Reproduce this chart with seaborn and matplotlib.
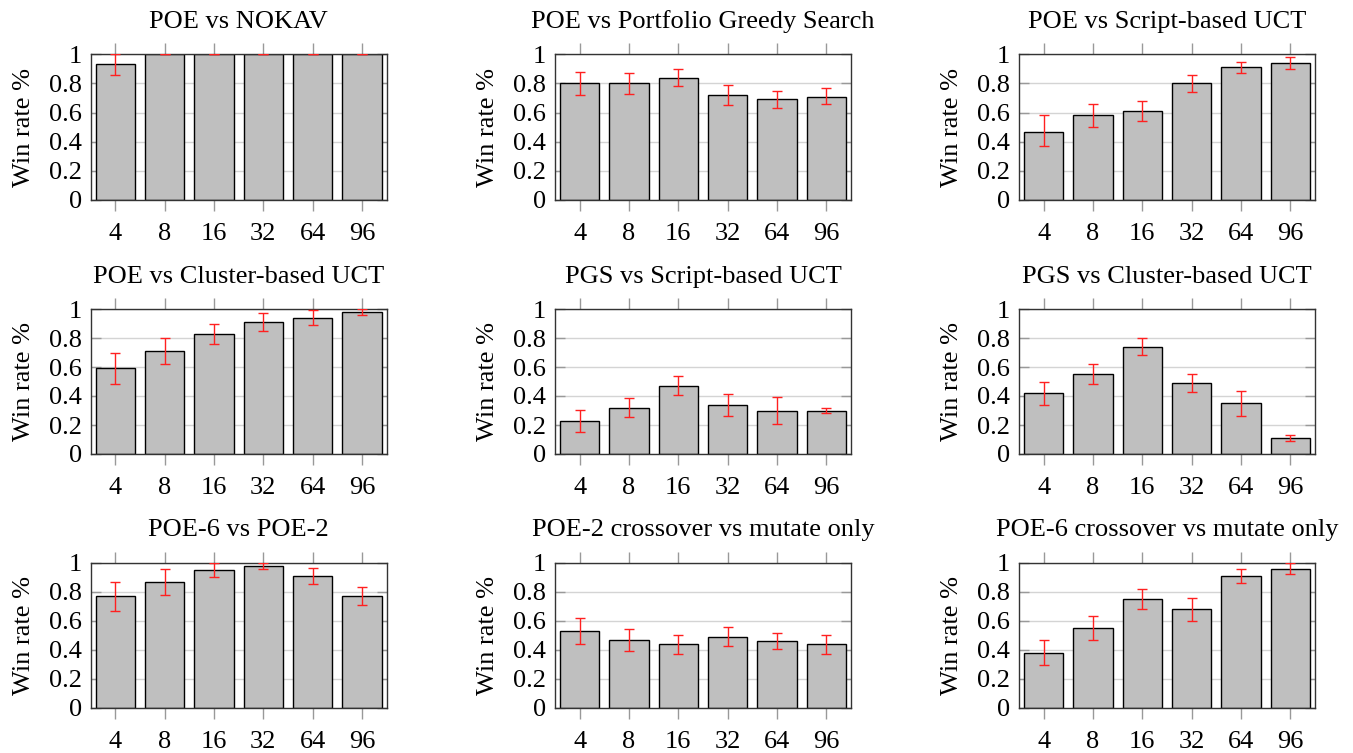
import matplotlib
matplotlib.use("Agg")
import matplotlib.pyplot as plt
import seaborn as sns
import numpy as np
import pandas as pd

sns.set_theme(style="white")
plt.rcParams['font.family'] = ['Liberation Serif', 'DejaVu Serif']
plt.rcParams['text.color'] = 'black'
plt.rcParams['axes.labelcolor'] = 'black'
plt.rcParams['xtick.labelcolor'] = 'black'
plt.rcParams['ytick.labelcolor'] = 'black'

categories = ["4", "8", "16", "32", "64", "96"]

titles = [
    "POE vs NOKAV",
    "POE vs Portfolio Greedy Search",
    "POE vs Script-based UCT",
    "POE vs Cluster-based UCT",
    "PGS vs Script-based UCT",
    "PGS vs Cluster-based UCT",
    "POE-6 vs POE-2",
    "POE-2 crossover vs mutate only",
    "POE-6 crossover vs mutate only",
]

win_nokav = [0.93, 1.00, 1.00, 1.00, 1.00, 1.00]
lo_nokav = [0.86, 1.00, 1.00, 1.00, 1.00, 1.00]
hi_nokav = [1.00, 1.00, 1.00, 1.00, 1.00, 1.00]

win_pgs = [0.80, 0.80, 0.84, 0.72, 0.69, 0.71]
lo_pgs = [0.72, 0.73, 0.78, 0.65, 0.63, 0.66]
hi_pgs = [0.88, 0.87, 0.90, 0.79, 0.75, 0.77]

win_suct = [0.47, 0.58, 0.61, 0.80, 0.91, 0.94]
lo_suct = [0.37, 0.50, 0.54, 0.74, 0.87, 0.90]
hi_suct = [0.58, 0.66, 0.68, 0.86, 0.95, 0.98]

win_cuct = [0.59, 0.71, 0.83, 0.91, 0.94, 0.98]
lo_cuct = [0.48, 0.62, 0.76, 0.85, 0.89, 0.96]
hi_cuct = [0.70, 0.80, 0.90, 0.97, 0.99, 1.00]

win_pgs_suct = [0.23, 0.32, 0.47, 0.34, 0.30, 0.30]
lo_pgs_suct = [0.155, 0.255, 0.405, 0.265, 0.21, 0.28]
hi_pgs_suct = [0.305, 0.385, 0.535, 0.415, 0.39, 0.32]

win_pgs_cuct = [0.42, 0.55, 0.74, 0.49, 0.35, 0.11]
lo_pgs_cuct = [0.34, 0.48, 0.68, 0.425, 0.265, 0.09]
hi_pgs_cuct = [0.50, 0.62, 0.80, 0.555, 0.435, 0.13]

win_poe6_poe2 = [0.77, 0.87, 0.95, 0.98, 0.91, 0.77]
lo_poe6_poe2 = [0.67, 0.78, 0.90, 0.96, 0.855, 0.71]
hi_poe6_poe2 = [0.87, 0.96, 1.00, 1.00, 0.965, 0.83]

win_poe2_cx = [0.53, 0.47, 0.44, 0.49, 0.46, 0.44]
lo_poe2_cx = [0.44, 0.395, 0.375, 0.425, 0.405, 0.375]
hi_poe2_cx = [0.62, 0.545, 0.505, 0.555, 0.515, 0.505]

win_poe6_cx = [0.38, 0.55, 0.75, 0.68, 0.91, 0.96]
lo_poe6_cx = [0.295, 0.465, 0.68, 0.60, 0.86, 0.92]
hi_poe6_cx = [0.465, 0.635, 0.82, 0.76, 0.96, 1.00]

series = [
    (win_nokav, lo_nokav, hi_nokav),
    (win_pgs, lo_pgs, hi_pgs),
    (win_suct, lo_suct, hi_suct),
    (win_cuct, lo_cuct, hi_cuct),
    (win_pgs_suct, lo_pgs_suct, hi_pgs_suct),
    (win_pgs_cuct, lo_pgs_cuct, hi_pgs_cuct),
    (win_poe6_poe2, lo_poe6_poe2, hi_poe6_poe2),
    (win_poe2_cx, lo_poe2_cx, hi_poe2_cx),
    (win_poe6_cx, lo_poe6_cx, hi_poe6_cx),
]

yticks = [0, 0.2, 0.4, 0.6, 0.8, 1.0]
ytick_labels = ["0", "0.2", "0.4", "0.6", "0.8", "1"]

W, H = 1353, 753
fig = plt.figure(figsize=(W / 100, H / 100), dpi=100)

cols = [(90.7, 386.7), (555, 851), (1019, 1315)]
rows = [(54.3, 200), (309, 454), (562.7, 708)]

fs = 19
for i, (title, (win, lo, hi)) in enumerate(zip(titles, series)):
    r, c = divmod(i, 3)
    x0, x1 = cols[c]
    y0, y1 = rows[r]
    ax = fig.add_axes([x0 / W, 1 - y1 / H, (x1 - x0) / W, (y1 - y0) / H])
    df = pd.DataFrame({"k": categories, "win": win})
    ax.set_axisbelow(True)
    ax.yaxis.grid(True, color="#d4d4d4", linewidth=1.0)
    sns.barplot(data=df, x="k", y="win", color="#bfbfbf", saturation=1,
                edgecolor="black", linewidth=1.0, width=0.8, errorbar=None, ax=ax)
    w = np.array(win)
    yerr = np.vstack([w - np.array(lo), np.array(hi) - w])
    ax.errorbar(np.arange(len(categories)), w, yerr=yerr, fmt="none",
                ecolor="#ff2020", elinewidth=1.0, capsize=3.8, capthick=1.0, zorder=5)
    ax.set_xlim(-0.5, 5.5)
    ax.set_ylim(0, 1)
    ax.set_yticks(yticks)
    ax.set_yticklabels(ytick_labels, fontsize=fs)
    ax.set_xticks(range(len(categories)))
    ax.set_xticklabels(categories, fontsize=fs)
    ax.tick_params(axis="x", direction="out", length=7.7, width=1, color="#999999",
                   labelcolor="black", top=True, bottom=True, pad=9)
    ax.tick_params(axis="y", direction="in", length=7, width=1, color="#999999",
                   labelcolor="black", left=True, right=True, pad=6.5)
    ax.set_xlabel("")
    ax.set_ylabel("Win rate %", fontsize=fs, labelpad=10, color="black")
    ax.set_title(title, fontsize=fs, pad=19, color="black")
    for s in ax.spines.values():
        s.set_color("#333333")
        s.set_linewidth(1.0)
        s.set_visible(True)

fig.savefig("out.png", dpi=100)
